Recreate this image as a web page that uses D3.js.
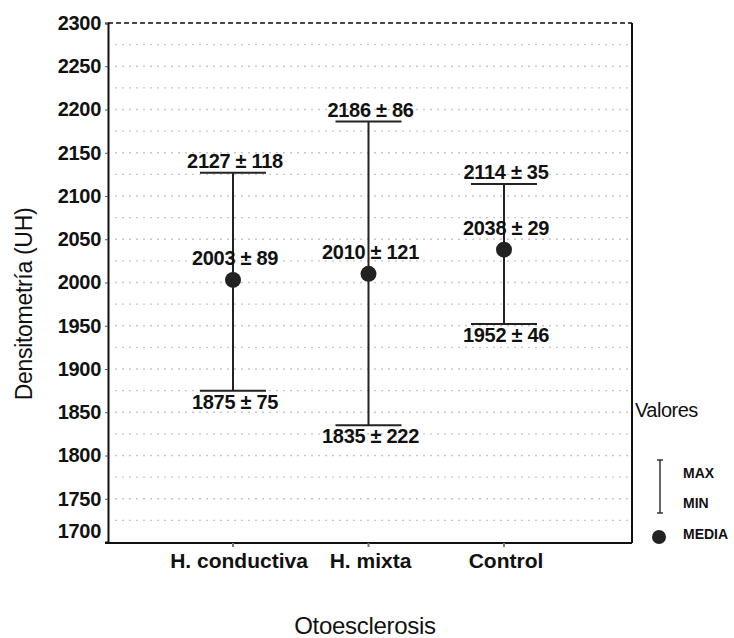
<!DOCTYPE html>
<html>
<head>
<meta charset="UTF-8">
<script src="https://cdn.jsdelivr.net/npm/d3@7"></script>
<style>
  body { margin: 0; background: #fff; }
  text { font-family: "Liberation Sans", Arial, sans-serif; fill: #111; }
</style>
</head>
<body>
<svg width="734" height="638"></svg>
<script>
// datos
var categories = ["H. conductiva", "H. mixta", "Control"];
var maxVals  = [2127, 2186, 2114];
var maxSd    = [118, 86, 35];
var meanVals = [2003, 2010, 2038];
var meanSd   = [89, 121, 29];
var minVals  = [1875, 1835, 1952];
var minSd    = [75, 222, 46];
var yTicks   = [1700, 1750, 1800, 1850, 1900, 1950, 2000, 2050, 2100, 2150, 2200, 2250, 2300];
var gridVals = [1725, 1750, 1775, 1800, 1825, 1850, 1875, 1900, 1925, 1950, 1975, 2000, 2025,
                2050, 2075, 2100, 2125, 2150, 2175, 2200, 2225, 2250, 2275];
var legendItems = ["MAX", "MIN", "MEDIA"];

var svg = d3.select("svg");
var plotL = 108, plotR = 632, plotT = 23, plotB = 542;

var y = d3.scaleLinear().domain([1700, 2300]).range([plotB, plotT]);
var x = d3.scalePoint().domain(categories).range([233, 504]);

var rows = categories.map(function(c, i){
  return {cat: c, max: maxVals[i], maxSd: maxSd[i], mean: meanVals[i], meanSd: meanSd[i], min: minVals[i], minSd: minSd[i]};
});

// rejilla punteada
svg.append("g").selectAll("line")
  .data(gridVals).enter().append("line")
  .attr("x1", plotL + 7).attr("x2", plotR - 4)
  .attr("y1", function(d){ return y(d); })
  .attr("y2", function(d){ return y(d); })
  .attr("stroke", "#c8c8c8")
  .attr("stroke-width", 1.3)
  .attr("stroke-dasharray", "2,5");

// marco
svg.append("line").attr("x1", plotL).attr("x2", plotR).attr("y1", plotT).attr("y2", plotT)
  .attr("stroke", "#111").attr("stroke-width", 1.5).attr("stroke-dasharray", "5,3");
svg.append("line").attr("x1", plotR).attr("x2", plotR).attr("y1", plotT).attr("y2", plotB + 1)
  .attr("stroke", "#111").attr("stroke-width", 2);
svg.append("line").attr("x1", plotL - 3).attr("x2", plotR).attr("y1", plotB + 1).attr("y2", plotB + 1)
  .attr("stroke", "#111").attr("stroke-width", 2);

// eje y
var yAxis = svg.append("g")
  .attr("transform", "translate(" + plotL + ",0)")
  .call(d3.axisLeft(y).tickValues(yTicks).tickSize(3).tickPadding(4).tickFormat(d3.format("d")));
yAxis.select(".domain").attr("stroke", "#111").attr("stroke-width", 2);
yAxis.selectAll(".tick line").attr("stroke", "#555");
yAxis.selectAll("text")
  .style("font-size", "20px").style("font-weight", "bold")
  .attr("letter-spacing", "-0.3");
yAxis.selectAll(".tick").filter(function(d){ return d === 1700; })
  .select("text").attr("dy", "-0.25em");
yAxis.selectAll(".tick").filter(function(d){ return d === 1700; })
  .select("line").remove();

// marcas eje x
svg.append("g").selectAll("line")
  .data(categories).enter().append("line")
  .attr("x1", function(d){ return x(d); }).attr("x2", function(d){ return x(d); })
  .attr("y1", plotB + 1).attr("y2", plotB + 5)
  .attr("stroke", "#777").attr("stroke-width", 2);

svg.append("g").selectAll("text")
  .data(categories).enter().append("text")
  .attr("x", function(d, i){ return x(d) + (i === 0 ? 6 : 2); })
  .attr("y", 568)
  .attr("text-anchor", "middle")
  .style("font-size", "21px").style("font-weight", "bold")
  .text(function(d){ return d; });

// barras de error
var capW = 33;
var bars = svg.append("g").selectAll("g")
  .data(rows).enter().append("g");

bars.append("line")
  .attr("x1", function(d){ return x(d.cat); }).attr("x2", function(d){ return x(d.cat); })
  .attr("y1", function(d){ return y(d.max); }).attr("y2", function(d){ return y(d.min); })
  .attr("stroke", "#222").attr("stroke-width", 2);
bars.append("line")
  .attr("x1", function(d){ return x(d.cat) - capW; }).attr("x2", function(d){ return x(d.cat) + capW; })
  .attr("y1", function(d){ return y(d.max); }).attr("y2", function(d){ return y(d.max); })
  .attr("stroke", "#222").attr("stroke-width", 2);
bars.append("line")
  .attr("x1", function(d){ return x(d.cat) - capW; }).attr("x2", function(d){ return x(d.cat) + capW; })
  .attr("y1", function(d){ return y(d.min); }).attr("y2", function(d){ return y(d.min); })
  .attr("stroke", "#222").attr("stroke-width", 2);
bars.append("circle")
  .attr("cx", function(d){ return x(d.cat); })
  .attr("cy", function(d){ return y(d.mean); })
  .attr("r", 8)
  .attr("fill", "#222");

function lab(sel, yv, sdv, dy){
  sel.append("text")
    .attr("x", function(d){ return x(d.cat) + 2; })
    .attr("y", function(d){ return y(d[yv]) + dy; })
    .attr("text-anchor", "middle")
    .style("font-size", "20px").style("font-weight", "bold")
    .attr("letter-spacing", "-0.3")
    .text(function(d){ return d[yv] + " \u00b1 " + d[sdv]; });
}
lab(bars, "max", "maxSd", -5);
lab(bars, "mean", "meanSd", -15);
lab(bars, "min", "minSd", 18);

// títulos
svg.append("text")
  .attr("transform", "translate(32,304) rotate(-90)")
  .attr("text-anchor", "middle")
  .style("font-size", "23px")
  .attr("letter-spacing", "-0.3")
  .text("Densitometría (UH)");
svg.append("text")
  .attr("x", 365).attr("y", 634)
  .attr("text-anchor", "middle")
  .style("font-size", "24px")
  .attr("letter-spacing", "-0.3")
  .text("Otoesclerosis");

// leyenda
var lg = svg.append("g");
lg.append("text").attr("x", 635).attr("y", 417)
  .style("font-size", "20px").attr("letter-spacing", "-0.5").text("Valores");
lg.append("line").attr("x1", 660).attr("x2", 660).attr("y1", 460).attr("y2", 513)
  .attr("stroke", "#333").attr("stroke-width", 1.5);
lg.append("line").attr("x1", 657).attr("x2", 663).attr("y1", 460).attr("y2", 460)
  .attr("stroke", "#333").attr("stroke-width", 1.5);
lg.append("line").attr("x1", 657).attr("x2", 663).attr("y1", 513).attr("y2", 513)
  .attr("stroke", "#333").attr("stroke-width", 1.5);
lg.append("circle").attr("cx", 659).attr("cy", 537).attr("r", 7).attr("fill", "#222");
lg.selectAll(".lt").data(legendItems).enter().append("text")
  .attr("x", 683)
  .attr("y", function(d, i){ return [478, 508, 539][i]; })
  .style("font-size", "14px").style("font-weight", "bold")
  .text(function(d){ return d; });
</script>
</body>
</html>
